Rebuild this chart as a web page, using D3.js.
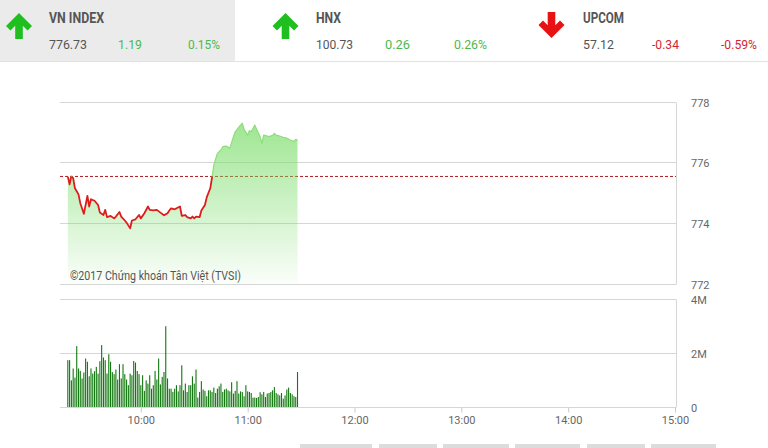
<!DOCTYPE html>
<html><head><meta charset="utf-8">
<script src="https://cdn.jsdelivr.net/npm/d3@7"></script>
<style>
html,body{margin:0;padding:0;background:#fff;}
svg{display:block;font-family:Roboto,"Noto Sans",sans-serif;}
</style></head><body><svg id="c" width="768" height="448"></svg>
<script>
// ---- header data ----
const indexNames = ["VN INDEX", "HNX", "UPCOM"];
const indexValues = ["776.73", "100.73", "57.12"];
const indexChanges = ["1.19", "0.26", "-0.34"];
const indexPercents = ["0.15%", "0.26%", "-0.59%"];

// ---- price chart data ----
const refValue = 775.54;
const priceTimes = ["09:19","09:20","09:21","09:22","09:23","09:25","09:26","09:28","09:30","09:31","09:32","09:34","09:36","09:37","09:39","09:40","09:41","09:43","09:45","09:46","09:48","09:49","09:51","09:52","09:54","09:55","09:57","09:59","10:00","10:02","10:04","10:05","10:07","10:09","10:11","10:13","10:15","10:16","10:17","10:19","10:22","10:23","10:25","10:26","10:28","10:29","10:30","10:31","10:33","10:34","10:36","10:37","10:39","10:40","10:41","10:43","10:45","10:46","10:48","10:50","10:52","10:53","10:55","10:57","10:58","11:00","11:01","11:02","11:04","11:05","11:07","11:08","11:09","11:11","11:12","11:14","11:15","11:16","11:18","11:20","11:22","11:24","11:26","11:27","11:28"];
const priceValues = [775.54,775.28,775.56,775.48,775.15,774.95,774.66,774.31,774.90,774.55,774.79,774.74,774.60,774.35,774.27,774.44,774.20,774.24,774.16,774.22,774.37,774.22,774.09,774.02,773.83,774.09,774.13,774.27,774.16,774.33,774.55,774.44,774.42,774.44,774.35,774.26,774.33,774.42,774.49,774.46,774.55,774.24,774.27,774.20,774.16,774.22,774.16,774.22,774.20,774.42,774.60,774.85,775.15,775.51,775.92,776.30,776.41,776.52,776.54,776.47,776.85,777.01,777.16,777.29,777.09,776.90,777.05,777.01,777.23,777.09,776.85,776.63,776.90,776.87,776.85,776.89,776.96,776.90,776.87,776.83,776.80,776.74,776.69,776.76,776.73];

// ---- volume data (millions, one bar per minute from volumeStart) ----
const volumeStart = "09:19";
const volumes = [1.74,1.74,0.99,1.43,1.09,2.26,1.43,1.34,1.06,1.28,1.80,1.68,1.14,1.43,1.24,1.33,1.49,1.24,1.70,2.30,1.84,1.74,1.24,1.96,1.68,1.30,1.22,1.39,1.02,1.59,1.06,1.59,1.22,1.02,0.81,1.24,1.18,1.71,1.65,1.34,1.22,0.81,1.18,0.60,0.99,0.87,1.18,0.68,0.81,1.34,1.02,1.80,0.84,1.12,1.30,3.00,1.06,0.68,0.68,0.56,0.68,0.81,0.58,0.81,1.55,0.62,0.87,0.56,0.81,0.81,1.14,0.87,1.39,0.35,0.56,0.96,0.65,0.60,0.40,0.62,0.62,0.56,0.72,0.52,0.68,0.77,0.87,0.56,0.65,0.68,0.62,0.58,0.92,0.50,0.60,0.96,0.50,0.58,0.56,0.40,0.81,0.58,0.56,0.52,0.35,0.35,0.34,0.37,0.55,0.47,0.56,0.37,0.50,0.52,0.56,0.62,0.74,0.52,0.47,0.43,0.52,0.31,0.43,0.65,0.72,0.52,0.47,0.40,0.37,1.30];

// ---- ticks ----
const priceTicks = [772, 774, 776, 778];
const volumeTicks = [0, 2, 4];
const volumeTickLabels = ["0", "2M", "4M"];
const timeTicks = ["10:00", "11:00", "12:00", "13:00", "14:00", "15:00"];
const copyright = "©2017 Chứng khoán Tân Việt (TVSI)";

const svg = d3.select("#c");
const parse = d3.timeParse("%H:%M");

// ---------- header ----------
svg.append("rect").attr("x",0).attr("y",0).attr("width",235).attr("height",61).attr("fill","#ebebeb");
svg.append("line").attr("x1",0).attr("x2",768).attr("y1",61.5).attr("y2",61.5).attr("stroke","#e2e2e2");
const arrowX = [19, 285.5, 551.5];
const textX = [49, 316, 583];
const chgX = [118, 385, 652];
const pctX = [188, 454, 721];
const nameW = [55, 25, 41], valW = [38, 37, 31], chgW = [24, 25, 27], pctW = [32, 33, 36];
indexNames.forEach((n, i) => {
  const up = !indexChanges[i].startsWith("-");
  const cx = arrowX[i];
  const s = up ? 1 : -1, base = up ? 13 : 38;
  const pts = [[0,0],[13,13],[8.5,17.5],[3.8,12.8],[3.8,26],[-3.8,26],[-3.8,12.8],[-8.5,17.5],[-13,13]]
    .map(p => [cx + p[0], base + s * p[1]]);
  svg.append("polygon").attr("points", pts.map(p => p.join(",")).join(" "))
    .attr("fill", up ? "#1fbf1f" : "#e81212");
  const col = up ? "#4cb94c" : "#d2262e";
  svg.append("text").attr("x", textX[i]).attr("y", 23).text(n)
    .attr("font-size", 14).attr("font-weight", "bold").attr("fill", "#555")
    .attr("textLength", nameW[i]).attr("lengthAdjust", "spacingAndGlyphs");
  svg.append("text").attr("x", textX[i]).attr("y", 49).text(indexValues[i])
    .attr("font-size", 13.5).attr("fill", "#555")
    .attr("textLength", valW[i]).attr("lengthAdjust", "spacingAndGlyphs");
  svg.append("text").attr("x", chgX[i]).attr("y", 49).text(indexChanges[i])
    .attr("font-size", 13.5).attr("fill", col)
    .attr("textLength", chgW[i]).attr("lengthAdjust", "spacingAndGlyphs");
  svg.append("text").attr("x", pctX[i]).attr("y", 49).text(indexPercents[i])
    .attr("font-size", 13.5).attr("fill", col)
    .attr("textLength", pctW[i]).attr("lengthAdjust", "spacingAndGlyphs");
});

// ---------- scales ----------
const x = d3.scaleTime().domain([parse("09:15"), parse("15:00")]).range([60.7, 675]);
const yP = d3.scaleLinear().domain([772, 778]).range([284, 101.7]);
const yV = d3.scaleLinear().domain([0, 4]).range([407, 299.3]);
const left = 60, right = 676;

const priceData = priceTimes.map((t, i) => ({t: parse(t), v: priceValues[i]}));
const t0 = parse(volumeStart);
const volData = volumes.map((v, i) => ({t: d3.timeMinute.offset(t0, i), v}));

// ---------- price panel grid ----------
const gridCol = "#d6d6d6";
svg.append("g").selectAll("line").data(priceTicks).join("line")
  .attr("x1", left).attr("x2", right).attr("y1", d => Math.round(yP(d)) + 0.5).attr("y2", d => Math.round(yP(d)) + 0.5)
  .attr("stroke", gridCol);
svg.append("line").attr("x1", right + 0.5).attr("x2", right + 0.5)
  .attr("y1", Math.round(yP(778)) + 0.5).attr("y2", Math.round(yP(772)) + 0.5).attr("stroke", gridCol);

// gradient
const defs = svg.append("defs");
const grad = defs.append("linearGradient").attr("id", "g1").attr("gradientUnits", "userSpaceOnUse")
  .attr("x1", 0).attr("x2", 0).attr("y1", yP(778)).attr("y2", yP(772));
grad.append("stop").attr("offset", 0).attr("stop-color", "#74db62").attr("stop-opacity", 0.78);
grad.append("stop").attr("offset", 1).attr("stop-color", "#74db62").attr("stop-opacity", 0.03);

const yRef = yP(refValue);
defs.append("clipPath").attr("id", "below").append("rect")
  .attr("x", 0).attr("y", yRef).attr("width", 768).attr("height", 448);
defs.append("clipPath").attr("id", "above").append("rect")
  .attr("x", 0).attr("y", 0).attr("width", 768).attr("height", yRef);

// reference line (drawn under area)
svg.append("line").attr("x1", left).attr("x2", right).attr("y1", yRef).attr("y2", yRef)
  .attr("stroke", "#b01818").attr("stroke-width", 1).attr("stroke-dasharray", "3,2");

const area = d3.area().x(d => x(d.t)).y0(yP(772)).y1(d => yP(d.v));
svg.append("path").datum(priceData).attr("d", area).attr("fill", "url(#g1)");

const line = d3.line().x(d => x(d.t)).y(d => yP(d.v));
svg.append("path").datum(priceData).attr("d", line).attr("fill", "none")
  .attr("stroke", "#dd1c1c").attr("stroke-width", 1.8).attr("stroke-linejoin", "round")
  .attr("clip-path", "url(#below)");
svg.append("path").datum(priceData).attr("d", line).attr("fill", "none")
  .attr("stroke", "#8cde7b").attr("stroke-width", 1.2).attr("stroke-linejoin", "round")
  .attr("clip-path", "url(#above)");

// copyright
svg.append("text").attr("x", 70).attr("y", 280).text(copyright)
  .attr("font-size", 12).attr("fill", "#555")
  .attr("textLength", 171).attr("lengthAdjust", "spacingAndGlyphs");

// right axis price
const axP = svg.append("g").attr("transform", `translate(${right + 10},1)`)
  .call(d3.axisRight(yP).tickValues(priceTicks).tickSize(0).tickPadding(5).tickFormat(d3.format("d")));
axP.select(".domain").remove();
axP.selectAll("text").attr("font-size", 11).attr("fill", "#666").attr("font-family", "Roboto,sans-serif");

// ---------- volume panel ----------
svg.append("g").selectAll("line").data(volumeTicks).join("line")
  .attr("x1", left).attr("x2", right).attr("y1", d => Math.round(yV(d)) + 0.5).attr("y2", d => Math.round(yV(d)) + 0.5)
  .attr("stroke", gridCol);
svg.append("line").attr("x1", right + 0.5).attr("x2", right + 0.5)
  .attr("y1", Math.round(yV(4)) + 0.5).attr("y2", Math.round(yV(0)) + 0.5).attr("stroke", gridCol);

svg.append("g").selectAll("rect").data(volData).join("rect")
  .attr("x", d => x(d.t) - 0.55).attr("width", 1.1)
  .attr("y", d => yV(d.v)).attr("height", d => yV(0) - yV(d.v))
  .attr("fill", "#12780f");

const axV = svg.append("g").attr("transform", `translate(${right + 10},1)`)
  .call(d3.axisRight(yV).tickValues(volumeTicks).tickSize(0).tickPadding(5)
    .tickFormat((d, i) => volumeTickLabels[i]));
axV.select(".domain").remove();
axV.selectAll("text").attr("font-size", 11).attr("fill", "#666").attr("font-family", "Roboto,sans-serif");

// time axis
const axX = svg.append("g").attr("transform", `translate(0,${Math.round(yV(0)) + 0.5})`)
  .call(d3.axisBottom(x).tickValues(timeTicks.map(parse)).tickSize(5).tickPadding(4)
    .tickFormat(d3.timeFormat("%H:%M")));
axX.select(".domain").remove();
axX.selectAll("line").attr("stroke", "#ccc");
axX.selectAll("text").attr("font-size", 11).attr("fill", "#666").attr("font-family", "Roboto,sans-serif");

// bottom buttons (cut off)
const btnX = [300, 379, 443, 515, 587, 651];
const btnW = [72, 58, 66, 65, 58, 65];
svg.append("g").selectAll("rect").data(btnX).join("rect")
  .attr("x", d => d).attr("y", 444).attr("width", (d, i) => btnW[i]).attr("height", 10)
  .attr("fill", "#dcdcdc");
</script></body></html>
